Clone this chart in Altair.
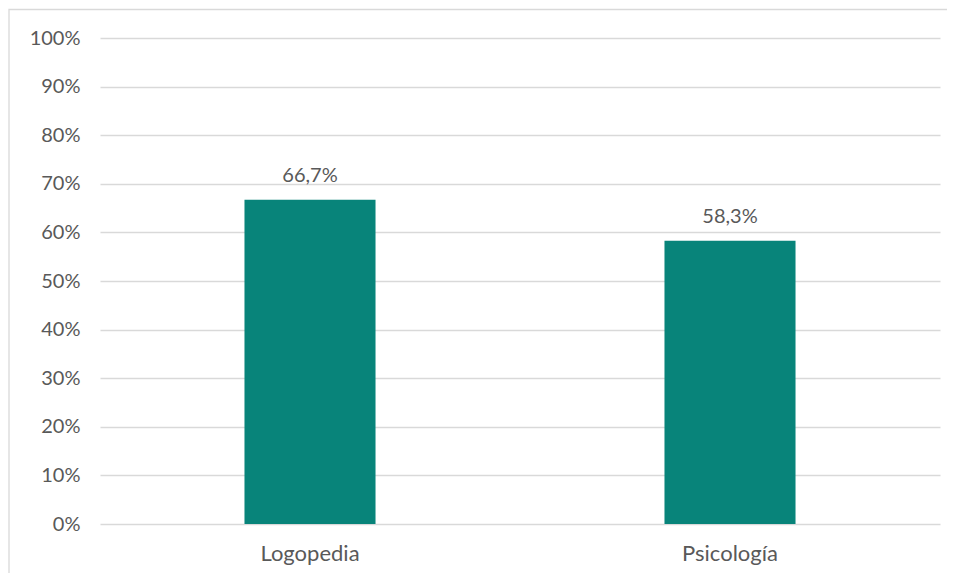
import altair as alt
import pandas as pd

categories = ["Logopedia", "Psicología"]
values = [0.667, 0.583]
labels = ["66,7%", "58,3%"]
y_ticks = [0, 0.1, 0.2, 0.3, 0.4, 0.5, 0.6, 0.7, 0.8, 0.9, 1.0]

df = pd.DataFrame({"cat": categories, "val": values, "lab": labels})

FONT = "Lato"
FS = 20
TXT = "#595959"
GRID = "#D9D9D9"

base = alt.Chart(df)

x_enc = alt.X("cat:N", sort=categories, title=None,
              scale=alt.Scale(paddingInner=0.688, paddingOuter=0.344),
              axis=alt.Axis(labelAngle=0, ticks=False, domain=False,
                            labelFontSize=22, labelColor=TXT, labelFont=FONT,
                            labelPadding=19))
y_enc = alt.Y("val:Q", title=None,
              scale=alt.Scale(domain=[0, 1], nice=False),
              axis=alt.Axis(values=y_ticks, format=".0%", ticks=False, domain=False,
                            labelFontSize=FS, labelColor=TXT, labelFont=FONT,
                            labelPadding=20, gridColor=GRID, gridWidth=1.3))

bars = base.mark_bar(color="#08847A").encode(x=x_enc, y=y_enc)

text = base.mark_text(baseline="bottom", dy=-14, fontSize=FS, font=FONT, color=TXT).encode(
    x=alt.X("cat:N", sort=categories), y=alt.Y("val:Q"), text="lab:N")

border = alt.Chart(pd.DataFrame({"a": [0]})).mark_rect(
    fill=None, stroke=GRID, strokeWidth=1.3).encode(
    x=alt.value(-91), x2=alt.value(900), y=alt.value(-28.5), y2=alt.value(600))

chart = alt.layer(bars, text, border).properties(
    width=840, height=486,
    padding={"left": 92, "top": 30, "right": 7, "bottom": 49},
    autosize=alt.AutoSizeParams(type="none"),
    background="white",
).configure_view(stroke=None)

chart.save("out.html", embed_options={"renderer": "svg", "actions": False})
